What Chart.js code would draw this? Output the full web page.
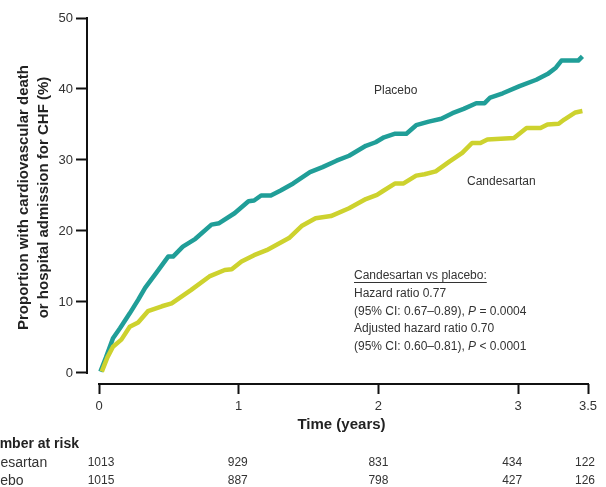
<!DOCTYPE html>
<html>
<head>
<meta charset="utf-8">
<title>Candesartan vs placebo</title>
<script src="https://cdn.jsdelivr.net/npm/chart.js@4.4.1/dist/chart.umd.min.js"></script>
<style>
  html, body { margin: 0; padding: 0; background: #fff; }
</style>
</head>
<body>
<canvas id="kmChart" width="606" height="487"></canvas>
<script>
// Kaplan-Meier style cumulative event curves
const placeboTime = [0.01, 0.05, 0.10, 0.15, 0.22, 0.28, 0.33, 0.41, 0.495, 0.53, 0.60, 0.69, 0.805, 0.86, 0.97,
  1.07, 1.11, 1.16, 1.23, 1.30, 1.39, 1.51, 1.60, 1.70, 1.79, 1.91, 1.98, 2.04, 2.12, 2.20, 2.27, 2.36, 2.45,
  2.53, 2.61, 2.70, 2.76, 2.80, 2.89, 3.01, 3.13, 3.21, 3.27, 3.31, 3.43, 3.46];
const placeboPct = [0.2, 2.2, 4.9, 6.3, 8.4, 10.3, 12.0, 14.1, 16.4, 16.4, 17.8, 18.9, 20.9, 21.1, 22.5,
  24.2, 24.3, 25.0, 25.0, 25.7, 26.7, 28.3, 29.0, 29.9, 30.6, 32.0, 32.5, 33.2, 33.7, 33.7, 34.9, 35.4, 35.8,
  36.6, 37.2, 38.0, 38.0, 38.8, 39.4, 40.4, 41.3, 42.1, 43.0, 44.0, 44.0, 44.6];

const candTime = [0.02, 0.06, 0.10, 0.16, 0.22, 0.28, 0.35, 0.45, 0.52, 0.66, 0.79, 0.90, 0.95, 1.02, 1.11,
  1.20, 1.36, 1.45, 1.55, 1.66, 1.79, 1.91, 1.99, 2.03, 2.12, 2.18, 2.27, 2.33, 2.41, 2.51, 2.60, 2.67, 2.73,
  2.78, 2.97, 3.06, 3.16, 3.21, 3.29, 3.33, 3.41, 3.46];
const candPct = [0.2, 2.2, 3.7, 4.7, 6.5, 7.1, 8.7, 9.4, 9.8, 11.7, 13.6, 14.5, 14.6, 15.7, 16.6,
  17.3, 19.0, 20.7, 21.8, 22.1, 23.2, 24.5, 25.1, 25.6, 26.7, 26.7, 27.8, 28.0, 28.4, 29.8, 31.0, 32.4, 32.4,
  32.9, 33.1, 34.5, 34.5, 35.0, 35.1, 35.7, 36.7, 36.9];

const xTicks = [0, 1, 2, 3, 3.5];
const yTicks = [0, 10, 20, 30, 40, 50];

// number at risk table
const riskGroups = ['Candesartan', 'Placebo'];
const riskTimes = [0, 1, 2, 3, 3.5];
const riskCandesartan = [1013, 929, 831, 434, 122];
const riskPlacebo = [1015, 887, 798, 427, 126];

const FONT = '"Liberation Sans", Arial, Helvetica, sans-serif';
const TEAL = '#209E98';
const LIME = '#CDD22E';

function pts(xs, ys) {
  return xs.map((x, i) => ({ x: x, y: ys[i] }));
}

function drawRich(ctx, parts, x, y) {
  parts.forEach(p => {
    ctx.font = (p[1] ? 'italic ' : '') + '12px ' + FONT;
    ctx.fillText(p[0], x, y);
    x += ctx.measureText(p[0]).width;
  });
  ctx.font = '12px ' + FONT;
}

// draws axis lines (detached, Prism style) and all the free text
const decorPlugin = {
  id: 'decor',
  afterDraw(chart) {
    const ctx = chart.ctx;
    const xs = chart.scales.x;
    const ys = chart.scales.y;
    ctx.save();

    // axis lines
    ctx.strokeStyle = '#111';
    ctx.lineWidth = 2;
    ctx.lineCap = 'square';
    ctx.beginPath();
    ctx.moveTo(ys.right, ys.getPixelForValue(50));
    ctx.lineTo(ys.right, ys.getPixelForValue(0));
    ctx.moveTo(xs.getPixelForValue(0), xs.top);
    ctx.lineTo(xs.getPixelForValue(3.5), xs.top);
    ctx.stroke();

    // y title (two lines, rotated)
    ctx.fillStyle = '#222';
    ctx.font = 'bold 15px ' + FONT;
    ctx.textAlign = 'center';
    ctx.textBaseline = 'middle';
    const yMid = (ys.getPixelForValue(0) + ys.getPixelForValue(50)) / 2 + 2;
    ctx.save();
    ctx.translate(24, yMid);
    ctx.rotate(-Math.PI / 2);
    ctx.fillText('Proportion with cardiovascular death', 0, 0);
    ctx.fillText('or hospital admission for CHF (%)', 0, 19.5);
    ctx.restore();

    // x title
    const xMid = (xs.getPixelForValue(0) + xs.getPixelForValue(3.5)) / 2;
    ctx.fillText('Time (years)', xMid - 2, 425);

    // series labels
    ctx.fillStyle = '#333';
    ctx.font = '12px ' + FONT;
    ctx.textAlign = 'left';
    ctx.fillText('Placebo', 374, 91);
    ctx.fillText('Candesartan', 467, 182);

    // statistics box
    const ax = 354;
    ctx.fillText('Candesartan vs placebo:', ax, 276);
    const uw = ctx.measureText('Candesartan vs placebo:').width;
    ctx.strokeStyle = '#333';
    ctx.lineWidth = 1;
    ctx.lineCap = 'butt';
    ctx.beginPath();
    ctx.moveTo(ax, 282.5);
    ctx.lineTo(ax + uw, 282.5);
    ctx.stroke();
    ctx.fillText('Hazard ratio 0.77', ax, 294);
    drawRich(ctx, [['(95% CI: 0.67\u20130.89), ', false], ['P', true], [' = 0.0004', false]], ax, 311.5);
    ctx.fillText('Adjusted hazard ratio 0.70', ax, 329);
    drawRich(ctx, [['(95% CI: 0.60\u20130.81), ', false], ['P', true], [' < 0.0001', false]], ax, 347);

    // number at risk (left edge is cut off, as in the source figure)
    ctx.fillStyle = '#222';
    ctx.font = 'bold 14px ' + FONT;
    ctx.fillText('Number at risk', -19, 444);
    ctx.font = '14px ' + FONT;
    ctx.fillStyle = '#333';
    ctx.fillText(riskGroups[0], -33, 463);
    ctx.fillText(riskGroups[1], -27, 481);
    ctx.font = '12px ' + FONT;
    ctx.textAlign = 'center';
    const nudge = [2, -1, 0, -6, -3];
    riskTimes.forEach((t, i) => {
      const px = xs.getPixelForValue(t) + nudge[i];
      ctx.fillText(String(riskCandesartan[i]), px, 463);
      ctx.fillText(String(riskPlacebo[i]), px, 481);
    });

    ctx.restore();
  }
};

const ctx = document.getElementById('kmChart');
new Chart(ctx.getContext('2d'), {
  type: 'line',
  data: {
    datasets: [
      {
        label: 'Candesartan',
        data: pts(candTime, candPct),
        borderColor: LIME,
        borderWidth: 4.5,
        pointRadius: 0,
        tension: 0,
        borderJoinStyle: 'round',
        fill: false
      },
      {
        label: 'Placebo',
        data: pts(placeboTime, placeboPct),
        borderColor: TEAL,
        borderWidth: 4.5,
        pointRadius: 0,
        tension: 0,
        borderJoinStyle: 'round',
        fill: false
      }
    ]
  },
  options: {
    responsive: false,
    animation: false,
    layout: { padding: { top: 18, right: 18, bottom: 0, left: 0 } },
    plugins: {
      legend: { display: false },
      tooltip: { enabled: false }
    },
    scales: {
      x: {
        type: 'linear',
        min: -0.086,
        max: 3.5,
        afterBuildTicks: s => { s.ticks = xTicks.map(v => ({ value: v })); },
        afterFit: s => { s.height = 103; },
        border: { display: false },
        grid: { drawOnChartArea: false, drawTicks: true, tickLength: 10, tickColor: '#111', tickWidth: 2 },
        ticks: {
          color: '#333',
          font: { size: 13, family: FONT },
          padding: 5,
          maxRotation: 0,
          callback: v => String(v)
        }
      },
      y: {
        type: 'linear',
        min: -1.55,
        max: 50,
        afterBuildTicks: s => { s.ticks = yTicks.map(v => ({ value: v })); },
        afterFit: s => { s.width = 87; },
        border: { display: false },
        grid: { drawOnChartArea: false, drawTicks: true, tickLength: 11, tickColor: '#111', tickWidth: 2 },
        ticks: {
          color: '#333',
          font: { size: 13, family: FONT },
          padding: 3,
          callback: v => String(v)
        }
      }
    }
  },
  plugins: [decorPlugin]
});
</script>
</body>
</html>
